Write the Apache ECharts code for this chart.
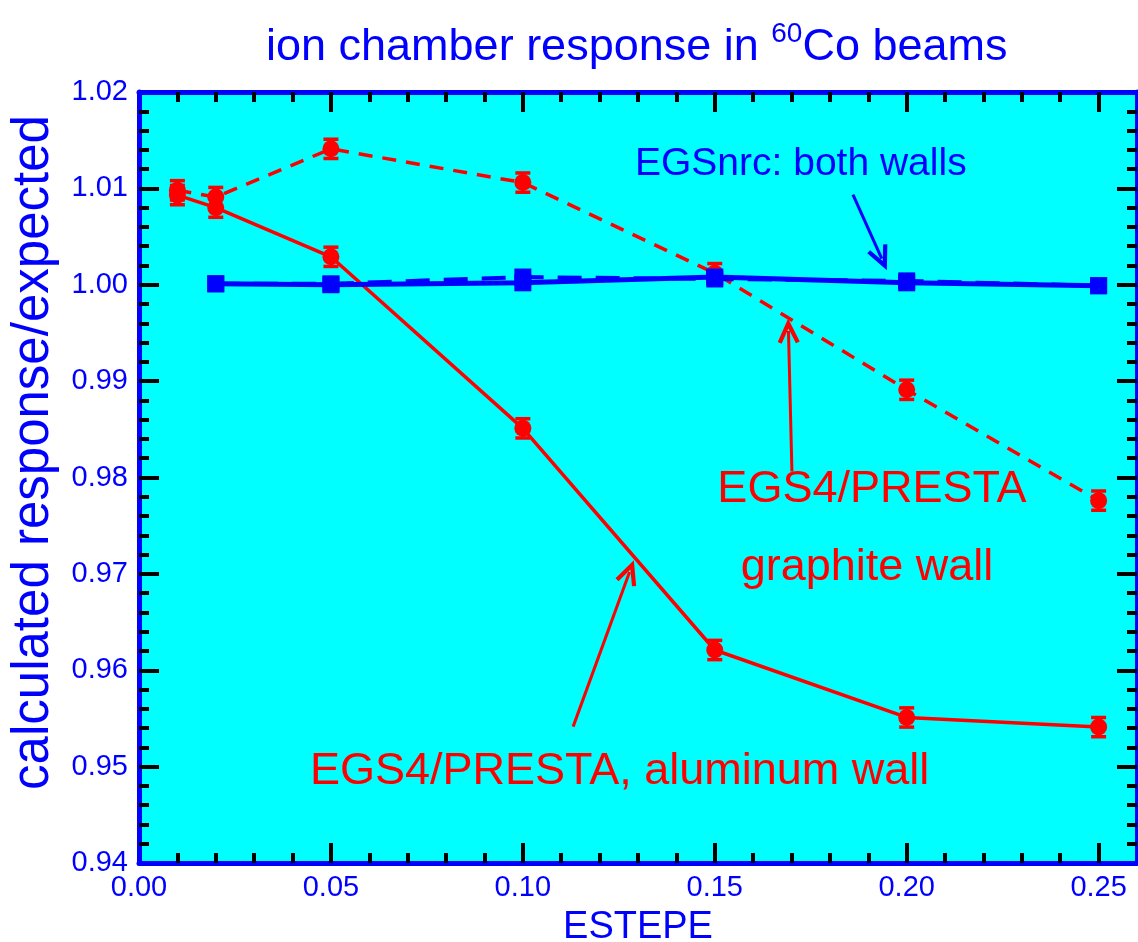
<!DOCTYPE html>
<html>
<head>
<meta charset="utf-8">
<script src="https://cdn.jsdelivr.net/npm/echarts@6/dist/echarts.min.js"></script>
<style>
  html, body { margin: 0; padding: 0; background: #fff; }
  #chart { width: 1138px; height: 942px; }
</style>
</head>
<body>
<div id="chart"></div>
<script>
// ESTEPE values
const xValues = [0.01, 0.02, 0.05, 0.10, 0.15, 0.20, 0.25];
// EGS4/PRESTA, aluminum wall (solid red)
const alWall = [1.0093, 1.0080, 1.0029, 0.9851, 0.9621, 0.9551, 0.9541];
const alErr = [0.0010, 0.0010, 0.0010, 0.0010, 0.0010, 0.0010, 0.0010];
// EGS4/PRESTA, graphite wall (dashed red)
const graphiteWall = [1.0098, 1.0091, 1.0141, 1.0106, 1.0012, 0.9891, 0.9776];
const graphiteErr = [0.0010, 0.0010, 0.0010, 0.0010, 0.0010, 0.0010, 0.0010];
// EGSnrc, both walls (blue)
const nrcX = [0.02, 0.05, 0.10, 0.15, 0.20, 0.25];
const nrcAluminum = [1.0001, 1.0000, 1.0002, 1.0008, 1.0002, 0.9999];
const nrcGraphite = [1.0001, 1.0001, 1.0008, 1.0006, 1.0004, 0.9999];

// tick labels / tick positions
const xLabelValues = [0, 0.05, 0.10, 0.15, 0.20, 0.25];
const xMajorTicks = [0.05, 0.10, 0.15, 0.20, 0.25];
const xMinorTicks = [0.01, 0.02, 0.03, 0.04, 0.06, 0.07, 0.08, 0.09, 0.11, 0.12, 0.13, 0.14,
                     0.16, 0.17, 0.18, 0.19, 0.21, 0.22, 0.23, 0.24];
const yMajorTicks = [0.95, 0.96, 0.97, 0.98, 0.99, 1.00, 1.01];

// annotation arrows [start, end] in data coords
const arrowNrc = [[0.1860, 1.00934], [0.1935, 1.00270]];
const arrowGraphite = [[0.1701, 0.98063], [0.1692, 0.99520]];
const arrowAluminum = [[0.1131, 0.95415], [0.1278, 0.97020]];

const BLUE = '#0000ff';
const RED = '#ff0000';
const FONT = '"Liberation Sans", Arial, sans-serif';
// open "V" arrow head, tip at the top
const ARROW = 'path://M10,0 L20,21 L16.5,22.5 L10,9 L3.5,22.5 L0,21 Z';

const chart = echarts.init(document.getElementById('chart'));

function errorBars(ys, errs) {
    return xValues.map((x, i) => [x, ys[i] - errs[i], ys[i] + errs[i]]);
}

function renderErrorBar(params, api) {
    const x = api.value(0);
    const lo = api.coord([x, api.value(1)]);
    const hi = api.coord([x, api.value(2)]);
    const w = 7.5;
    const st = { stroke: RED, lineWidth: 3.5 };
    return {
        type: 'group',
        children: [
            { type: 'line', shape: { x1: lo[0], y1: lo[1], x2: hi[0], y2: hi[1] }, style: st },
            { type: 'line', shape: { x1: hi[0] - w, y1: hi[1], x2: hi[0] + w, y2: hi[1] }, style: st },
            { type: 'line', shape: { x1: lo[0] - w, y1: lo[1], x2: lo[0] + w, y2: lo[1] }, style: st }
        ]
    };
}

function arrowLine(pts, color) {
    return {
        silent: true,
        symbol: ['none', ARROW],
        symbolSize: [22, 25],
        label: { show: false },
        lineStyle: { color: color, width: 3, type: 'solid' },
        itemStyle: { color: color },
        data: [[{ coord: pts[0] }, { coord: pts[1] }]]
    };
}

const tickBase = { show: true, inside: true, lineStyle: { color: '#000', width: 4 } };

function xAxisDef(position, ticks, len, main) {
    return {
        type: 'value', position: position, min: 0, max: 0.26,
        axisLine: { show: main, onZero: false, lineStyle: { color: BLUE, width: 5 } },
        axisTick: Object.assign({}, tickBase, { length: len, customValues: ticks }),
        axisLabel: { show: false },
        splitLine: { show: false }
    };
}

const xAxes = [
    xAxisDef('bottom', xMajorTicks, 20, true),
    xAxisDef('bottom', xMinorTicks, 10, false),
    xAxisDef('top', xMajorTicks, 20, true),
    xAxisDef('top', xMinorTicks, 10, false)
];
xAxes[0].axisLabel = {
    show: true, customValues: xLabelValues, margin: 10,
    color: BLUE, fontSize: 29, fontFamily: FONT,
    formatter: v => v.toFixed(2)
};
xAxes[0].name = 'ESTEPE';
xAxes[0].nameLocation = 'middle';
xAxes[0].nameGap = 46;
xAxes[0].nameTextStyle = { color: BLUE, fontSize: 38, fontFamily: FONT };

function yAxisDef(position, labels) {
    return {
        type: 'value', position: position, min: 0.94, max: 1.02, interval: 0.01,
        axisLine: { show: true, onZero: false, lineStyle: { color: BLUE, width: 5 } },
        axisTick: Object.assign({}, tickBase, { length: 20, customValues: yMajorTicks }),
        minorTick: { show: true, splitNumber: 5, length: 10, lineStyle: { color: '#000', width: 4 } },
        axisLabel: {
            show: labels, margin: 11, color: BLUE, fontSize: 29, fontFamily: FONT,
            formatter: v => v.toFixed(2)
        },
        splitLine: { show: false },
        minorSplitLine: { show: false }
    };
}

const yAxes = [yAxisDef('left', true), yAxisDef('right', false)];
yAxes[0].name = 'calculated response/expected';
yAxes[0].nameLocation = 'middle';
yAxes[0].nameGap = 80;
yAxes[0].nameTextStyle = { color: BLUE, fontSize: 51, fontFamily: FONT, padding: [0, 0, 0, 50] };

const option = {
    animation: false,
    backgroundColor: '#ffffff',
    title: {
        text: '{a|ion chamber response in }{s|60}{a|Co beams}',
        left: 266,
        top: 20,
        padding: 0,
        textStyle: {
            rich: {
                a: { color: BLUE, fontSize: 45, fontWeight: 'normal', lineHeight: 56, fontFamily: FONT },
                s: { color: BLUE, fontSize: 28, fontWeight: 'normal', lineHeight: 28, verticalAlign: 'top', fontFamily: FONT }
            }
        }
    },
    grid: {
        left: 139, right: 1, top: 92, bottom: 79,
        outerBoundsMode: 'none',
        show: true, backgroundColor: '#00ffff', borderWidth: 0
    },
    xAxis: xAxes,
    yAxis: yAxes,
    graphic: [
        { type: 'text', x: 635, y: 164, style: { text: 'EGSnrc: both walls', fill: BLUE, font: '39px ' + FONT, align: 'left', verticalAlign: 'middle' } },
        { type: 'text', x: 872, y: 490, style: { text: 'EGS4/PRESTA', fill: RED, font: '45px ' + FONT, align: 'center', verticalAlign: 'middle' } },
        { type: 'text', x: 867, y: 568, style: { text: 'graphite wall', fill: RED, font: '45px ' + FONT, align: 'center', verticalAlign: 'middle' } },
        { type: 'text', x: 310, y: 772, style: { text: 'EGS4/PRESTA, aluminum wall', fill: RED, font: '45px ' + FONT, align: 'left', verticalAlign: 'middle' } }
    ],
    series: [
        {
            name: 'graphite err', type: 'custom', z: 2,
            renderItem: renderErrorBar, encode: { x: 0, y: [1, 2] },
            data: errorBars(graphiteWall, graphiteErr)
        },
        {
            name: 'aluminum err', type: 'custom', z: 2,
            renderItem: renderErrorBar, encode: { x: 0, y: [1, 2] },
            data: errorBars(alWall, alErr)
        },
        {
            name: 'EGS4/PRESTA graphite wall', type: 'line', z: 3,
            data: xValues.map((x, i) => [x, graphiteWall[i]]),
            symbol: 'circle', symbolSize: 17,
            itemStyle: { color: RED },
            lineStyle: { color: RED, width: 3.5, type: [14, 10] },
            markLine: arrowLine(arrowGraphite, RED)
        },
        {
            name: 'EGS4/PRESTA aluminum wall', type: 'line', z: 3,
            data: xValues.map((x, i) => [x, alWall[i]]),
            symbol: 'circle', symbolSize: 17,
            itemStyle: { color: RED },
            lineStyle: { color: RED, width: 3.5 },
            markLine: arrowLine(arrowAluminum, RED)
        },
        {
            name: 'EGSnrc graphite wall', type: 'line', z: 4,
            data: nrcX.map((x, i) => [x, nrcGraphite[i]]),
            symbol: 'rect', symbolSize: 17,
            itemStyle: { color: BLUE },
            lineStyle: { color: BLUE, width: 4, type: [24, 14] }
        },
        {
            name: 'EGSnrc aluminum wall', type: 'line', z: 4,
            data: nrcX.map((x, i) => [x, nrcAluminum[i]]),
            symbol: 'rect', symbolSize: 17,
            itemStyle: { color: BLUE },
            lineStyle: { color: BLUE, width: 5 },
            markLine: arrowLine(arrowNrc, BLUE)
        }
    ]
};

chart.setOption(option);
</script>
</body>
</html>
